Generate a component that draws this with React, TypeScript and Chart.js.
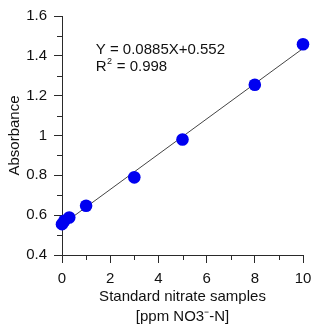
import React, { useEffect, useRef } from "react";
import { Chart, registerables } from "chart.js";

Chart.register(...registerables);

// Data
const concentration = [0, 0.1, 0.3, 1, 3, 5, 8, 10];
const absorbance = [0.555, 0.572, 0.588, 0.647, 0.79, 0.98, 1.255, 1.458];

// Regression line endpoints (Y = 0.0885X + 0.552)
const fitX = [0, 10];
const fitY = [0.552, 1.437];

// Tick labels
const xMajorTicks = [0, 2, 4, 6, 8, 10];
const xMinorTicks = [1, 3, 5, 7, 9];
const yMajorTicks = [0.4, 0.6, 0.8, 1, 1.2, 1.4, 1.6];
const yMinorTicks = [0.5, 0.7, 0.9, 1.1, 1.3, 1.5];

const equationText = "Y = 0.0885X+0.552";
const r2Value = "0.998";
const xTitle = ["Standard nitrate samples", "[ppm NO3\u207B-N]"];
const yTitle = "Absorbance";

const FONT = "'Liberation Sans', Arial, sans-serif";
const AXIS_COLOR = "#2a2a2a";
const TEXT_COLOR = "#111111";

export default function App() {
  const canvasRef = useRef<HTMLCanvasElement | null>(null);

  useEffect(() => {
    document.body.style.margin = "0";
    const canvas = canvasRef.current;
    if (!canvas) return;

    const extras = {
      id: "extras",
      afterDraw(chart: any) {
        const ctx = chart.ctx;
        const xs = chart.scales.x;
        const ys = chart.scales.y;
        ctx.save();
        ctx.strokeStyle = AXIS_COLOR;
        ctx.lineWidth = 1;
        ctx.beginPath();
        xMinorTicks.forEach((v) => {
          const px = Math.round(xs.getPixelForValue(v)) + 0.5;
          ctx.moveTo(px, ys.bottom);
          ctx.lineTo(px, ys.bottom + 5);
        });
        yMinorTicks.forEach((v) => {
          const py = Math.round(ys.getPixelForValue(v)) + 0.5;
          ctx.moveTo(xs.left, py);
          ctx.lineTo(xs.left - 5, py);
        });
        ctx.stroke();

        // annotation
        ctx.fillStyle = TEXT_COLOR;
        ctx.textBaseline = "middle";
        ctx.textAlign = "left";
        ctx.font = `15px ${FONT}`;
        const ax = xs.getPixelForValue(1.4);
        const ay1 = ys.getPixelForValue(1.43);
        const ay2 = ys.getPixelForValue(1.345);
        ctx.fillText(equationText, ax, ay1);
        ctx.fillText("R", ax, ay2);
        const rw = ctx.measureText("R").width;
        ctx.font = `9px ${FONT}`;
        ctx.fillText("2", ax + rw + 0.5, ay2 - 5);
        const sw = ctx.measureText("2").width;
        ctx.font = `15px ${FONT}`;
        ctx.fillText(" = " + r2Value, ax + rw + sw + 1, ay2);
        ctx.restore();
      },
    };

    const chart = new Chart(canvas, {
      type: "scatter",
      data: {
        datasets: [
          {
            type: "line",
            data: fitX.map((x, i) => ({ x, y: fitY[i] })),
            borderColor: "#444444",
            borderWidth: 1,
            pointRadius: 0,
            fill: false,
            order: 2,
          },
          {
            data: concentration.map((x, i) => ({ x, y: absorbance[i] })),
            backgroundColor: "#0000f0",
            borderColor: "#0000f0",
            borderWidth: 0,
            pointRadius: 6.3,
            clip: false,
            order: 1,
          } as any,
        ],
      },
      options: {
        responsive: false,
        animation: false,
        layout: { padding: { top: 14, right: 17, left: 0, bottom: 0 } },
        plugins: { legend: { display: false }, tooltip: { enabled: false } },
        scales: {
          x: {
            type: "linear",
            min: 0,
            max: 10,
            afterBuildTicks: (s: any) => {
              s.ticks = xMajorTicks.map((v) => ({ value: v }));
            },
            afterFit: (s: any) => {
              s.height = 78;
            },
            grid: {
              drawOnChartArea: false,
              drawTicks: true,
              tickLength: 8,
              tickColor: AXIS_COLOR,
            },
            border: { color: AXIS_COLOR, width: 1 },
            ticks: {
              color: TEXT_COLOR,
              font: { family: FONT, size: 15, lineHeight: 1.2 },
              padding: 7,
              maxRotation: 0,
              callback: (v: any) => String(v),
            },
            title: {
              display: true,
              text: xTitle,
              color: TEXT_COLOR,
              font: { family: FONT, size: 15, lineHeight: "20px" as any },
              padding: { top: 0, bottom: 6 },
            },
          },
          y: {
            type: "linear",
            min: 0.4,
            max: 1.6,
            afterBuildTicks: (s: any) => {
              s.ticks = yMajorTicks.map((v) => ({ value: v }));
            },
            afterFit: (s: any) => {
              s.width = 62;
            },
            grid: {
              drawOnChartArea: false,
              drawTicks: true,
              tickLength: 8,
              tickColor: AXIS_COLOR,
            },
            border: { color: AXIS_COLOR, width: 1 },
            ticks: {
              color: TEXT_COLOR,
              font: { family: FONT, size: 15, lineHeight: 1.2 },
              padding: 7,
              callback: (v: any) => String(Math.round(v * 10) / 10),
            },
            title: {
              display: true,
              text: yTitle,
              color: TEXT_COLOR,
              font: { family: FONT, size: 15, lineHeight: 1.2 },
              padding: { top: 6, bottom: 0 },
            },
          },
        },
      },
      plugins: [extras],
    });

    return () => chart.destroy();
  }, []);

  return (
    <canvas
      ref={canvasRef}
      width={320}
      height={333}
      style={{ display: "block", width: 320, height: 333 }}
    />
  );
}
